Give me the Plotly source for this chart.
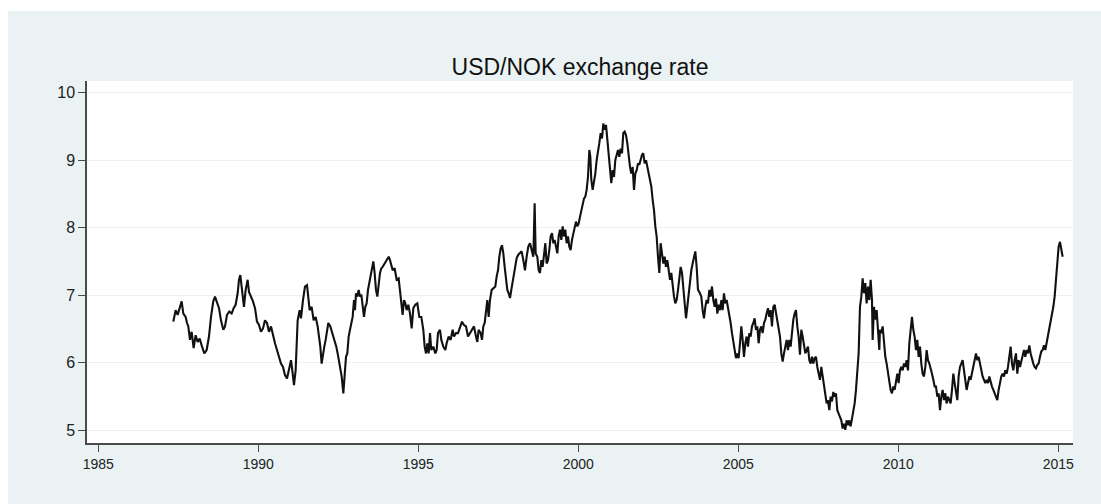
import plotly.graph_objects as go

# USD/NOK exchange rate, read as (decimal year, NOK per USD), split by period

years_87_92 = [1987.344, 1987.417, 1987.480, 1987.553, 1987.605, 1987.657, 1987.730, 1987.772,
               1987.813, 1987.865, 1987.917, 1987.980, 1988.042, 1988.105, 1988.167, 1988.230,
               1988.313, 1988.386, 1988.459, 1988.522, 1988.594, 1988.647, 1988.709, 1988.772,
               1988.834, 1988.907, 1988.959, 1989.022, 1989.094, 1989.167, 1989.230, 1989.292,
               1989.355, 1989.397, 1989.438, 1989.501, 1989.553, 1989.605, 1989.667, 1989.709,
               1989.772, 1989.834, 1989.897, 1989.959, 1990.022, 1990.084, 1990.147, 1990.209,
               1990.272, 1990.334, 1990.397, 1990.459, 1990.522, 1990.584, 1990.647, 1990.709,
               1990.772, 1990.834, 1990.897, 1990.959, 1991.022, 1991.063, 1991.115, 1991.167,
               1991.230, 1991.292, 1991.334, 1991.397, 1991.459, 1991.522, 1991.563, 1991.605,
               1991.667, 1991.730, 1991.792, 1991.855, 1991.897, 1991.938, 1991.980, 1992.022,
               1992.063, 1992.105, 1992.147, 1992.188, 1992.251, 1992.313, 1992.376, 1992.438,
               1992.480, 1992.542, 1992.605]
rates_87_92 = [6.61, 6.78, 6.71, 6.83, 6.91, 6.73, 6.68, 6.59,
               6.54, 6.34, 6.46, 6.22, 6.41, 6.31, 6.36, 6.26,
               6.14, 6.19, 6.39, 6.68, 6.91, 6.98, 6.91, 6.81,
               6.63, 6.49, 6.54, 6.71, 6.76, 6.73, 6.81, 6.86,
               7.03, 7.23, 7.30, 7.08, 6.83, 7.08, 7.23, 7.05,
               6.98, 6.91, 6.81, 6.61, 6.56, 6.46, 6.51, 6.63,
               6.59, 6.46, 6.54, 6.39, 6.29, 6.19, 6.09, 5.99,
               5.94, 5.82, 5.77, 5.89, 6.04, 5.89, 5.67, 5.89,
               6.63, 6.78, 6.66, 6.93, 7.13, 7.15, 6.98, 6.78,
               6.83, 6.63, 6.68, 6.54, 6.39, 6.24, 5.99, 6.14,
               6.24, 6.34, 6.49, 6.59, 6.54, 6.44, 6.36, 6.24,
               6.14, 5.99, 5.80]

years_92_98 = [1992.657, 1992.699, 1992.741, 1992.782, 1992.824, 1992.866, 1992.907, 1992.949,
               1992.991, 1993.022, 1993.053, 1993.095, 1993.136, 1993.178, 1993.220, 1993.261,
               1993.303, 1993.345, 1993.386, 1993.428, 1993.470, 1993.511, 1993.553, 1993.595,
               1993.636, 1993.678, 1993.720, 1993.761, 1993.803, 1993.845, 1993.886, 1993.949,
               1994.011, 1994.074, 1994.116, 1994.157, 1994.199, 1994.261, 1994.324, 1994.386,
               1994.428, 1994.470, 1994.511, 1994.553, 1994.595, 1994.636, 1994.688, 1994.741,
               1994.793, 1994.845, 1994.907, 1994.970, 1995.032, 1995.095, 1995.157, 1995.199,
               1995.241, 1995.282, 1995.324, 1995.366, 1995.407, 1995.470, 1995.532, 1995.574,
               1995.616, 1995.678, 1995.720, 1995.782, 1995.845, 1995.886, 1995.949, 1996.011,
               1996.074, 1996.116, 1996.178, 1996.241, 1996.303, 1996.366, 1996.428, 1996.491,
               1996.553, 1996.616, 1996.678, 1996.741, 1996.803, 1996.845, 1996.886, 1996.949,
               1996.991, 1997.032, 1997.074, 1997.116, 1997.157, 1997.199, 1997.241, 1997.293,
               1997.345, 1997.407, 1997.449, 1997.491, 1997.532, 1997.574, 1997.616, 1997.657,
               1997.699, 1997.741, 1997.782, 1997.824, 1997.866, 1997.907, 1997.949, 1997.991,
               1998.032, 1998.074, 1998.126]
rates_92_98 = [5.55, 5.80, 6.09, 6.14, 6.39, 6.49, 6.59, 6.68,
               6.93, 6.78, 7.03, 6.98, 7.08, 6.98, 7.01, 6.88,
               6.68, 6.83, 6.88, 7.08, 7.18, 7.33, 7.42, 7.50,
               7.33, 7.08, 6.98, 7.18, 7.33, 7.40, 7.42, 7.47,
               7.52, 7.57, 7.52, 7.42, 7.37, 7.40, 7.23, 7.25,
               7.08, 6.93, 6.71, 6.93, 6.88, 6.78, 6.86, 6.73,
               6.51, 6.81, 6.86, 6.88, 6.68, 6.68, 6.49, 6.24,
               6.14, 6.29, 6.14, 6.44, 6.19, 6.24, 6.14, 6.19,
               6.44, 6.49, 6.34, 6.24, 6.19, 6.29, 6.39, 6.34,
               6.49, 6.39, 6.44, 6.44, 6.54, 6.61, 6.56, 6.54,
               6.39, 6.44, 6.49, 6.54, 6.39, 6.31, 6.49, 6.44,
               6.34, 6.54, 6.59, 6.73, 6.93, 6.68, 6.93, 7.08,
               7.10, 7.13, 7.28, 7.37, 7.57, 7.69, 7.74, 7.62,
               7.42, 7.23, 7.08, 7.03, 6.96, 7.08, 7.20, 7.28,
               7.42, 7.55, 7.60]

years_98_03 = [1998.178, 1998.230, 1998.282, 1998.334, 1998.386, 1998.438, 1998.491, 1998.543,
               1998.595, 1998.636, 1998.668, 1998.720, 1998.761, 1998.803, 1998.845, 1998.886,
               1998.928, 1998.970, 1999.011, 1999.053, 1999.095, 1999.136, 1999.178, 1999.220,
               1999.261, 1999.303, 1999.345, 1999.386, 1999.428, 1999.470, 1999.511, 1999.553,
               1999.595, 1999.636, 1999.678, 1999.720, 1999.761, 1999.803, 1999.845, 1999.886,
               1999.928, 1999.970, 2000.011, 2000.053, 2000.095, 2000.136, 2000.178, 2000.220,
               2000.261, 2000.303, 2000.345, 2000.376, 2000.407, 2000.449, 2000.491, 2000.532,
               2000.574, 2000.616, 2000.657, 2000.699, 2000.741, 2000.782, 2000.824, 2000.866,
               2000.907, 2000.949, 2000.991, 2001.032, 2001.074, 2001.116, 2001.157, 2001.199,
               2001.241, 2001.282, 2001.324, 2001.366, 2001.407, 2001.449, 2001.491, 2001.532,
               2001.574, 2001.616, 2001.657, 2001.699, 2001.741, 2001.782, 2001.824, 2001.866,
               2001.907, 2001.949, 2001.991, 2002.032, 2002.074, 2002.116, 2002.157, 2002.199,
               2002.241, 2002.282, 2002.324, 2002.366, 2002.407, 2002.449, 2002.491, 2002.532,
               2002.574, 2002.616, 2002.657, 2002.699, 2002.741, 2002.782, 2002.824, 2002.866,
               2002.907, 2002.949, 2002.991, 2003.032, 2003.074, 2003.116, 2003.157, 2003.199,
               2003.241, 2003.282, 2003.324, 2003.366, 2003.407, 2003.449, 2003.491, 2003.532,
               2003.574, 2003.616, 2003.657, 2003.699, 2003.741, 2003.803]
rates_98_03 = [7.62, 7.65, 7.52, 7.37, 7.57, 7.72, 7.77, 7.67,
               7.57, 8.36, 7.62, 7.57, 7.37, 7.33, 7.52, 7.42,
               7.57, 7.77, 7.47, 7.52, 7.67, 7.87, 7.92, 7.77,
               7.82, 7.72, 7.62, 7.87, 7.97, 7.82, 8.02, 7.87,
               7.97, 7.77, 7.87, 7.72, 7.67, 7.82, 7.92, 8.02,
               8.09, 8.02, 8.06, 8.16, 8.26, 8.36, 8.43, 8.46,
               8.56, 8.75, 9.15, 9.05, 8.71, 8.56, 8.66, 8.80,
               9.00, 9.10, 9.25, 9.40, 9.32, 9.54, 9.45, 9.52,
               9.30, 9.05, 8.80, 8.66, 8.85, 8.75, 9.00, 9.10,
               9.15, 9.05, 9.17, 9.10, 9.40, 9.42, 9.37, 9.25,
               9.05, 8.90, 8.80, 8.90, 8.56, 8.80, 8.85, 8.95,
               8.93, 9.00, 9.08, 9.10, 8.95, 9.00, 8.90, 8.85,
               8.75, 8.61, 8.41, 8.26, 8.02, 7.87, 7.57, 7.33,
               7.77, 7.62, 7.47, 7.57, 7.42, 7.52, 7.37, 7.23,
               7.33, 7.13, 6.98, 6.88, 6.93, 7.08, 7.23, 7.42,
               7.33, 7.13, 6.93, 6.66, 6.83, 7.03, 7.28, 7.37,
               7.47, 7.57, 7.65, 7.42, 7.08, 7.03]

years_03_09 = [2003.845, 2003.886, 2003.928, 2003.970, 2004.011, 2004.053, 2004.095, 2004.136,
               2004.178, 2004.220, 2004.261, 2004.303, 2004.345, 2004.386, 2004.428, 2004.470,
               2004.511, 2004.553, 2004.595, 2004.636, 2004.678, 2004.720, 2004.761, 2004.803,
               2004.845, 2004.886, 2004.928, 2004.970, 2005.011, 2005.053, 2005.095, 2005.136,
               2005.178, 2005.220, 2005.261, 2005.303, 2005.345, 2005.386, 2005.428, 2005.470,
               2005.511, 2005.553, 2005.595, 2005.636, 2005.678, 2005.720, 2005.761, 2005.803,
               2005.845, 2005.886, 2005.928, 2005.970, 2006.011, 2006.053, 2006.095, 2006.136,
               2006.178, 2006.220, 2006.261, 2006.303, 2006.345, 2006.386, 2006.428, 2006.470,
               2006.511, 2006.553, 2006.595, 2006.636, 2006.678, 2006.720, 2006.761, 2006.803,
               2006.845, 2006.886, 2006.928, 2006.970, 2007.011, 2007.053, 2007.095, 2007.136,
               2007.178, 2007.220, 2007.261, 2007.303, 2007.345, 2007.386, 2007.428, 2007.470,
               2007.511, 2007.553, 2007.595, 2007.636, 2007.678, 2007.720, 2007.761, 2007.803,
               2007.845, 2007.886, 2007.928, 2007.970, 2008.011, 2008.053, 2008.095, 2008.136,
               2008.178, 2008.220, 2008.261, 2008.303, 2008.345, 2008.386, 2008.428, 2008.470,
               2008.511, 2008.553, 2008.595, 2008.636, 2008.678, 2008.720, 2008.761, 2008.782,
               2008.803, 2008.845, 2008.886, 2008.928, 2008.970, 2009.011, 2009.053, 2009.095,
               2009.136, 2009.178, 2009.199, 2009.241, 2009.282, 2009.324, 2009.366, 2009.407]
rates_03_09 = [6.98, 6.78, 6.66, 6.83, 6.93, 6.88, 7.08, 6.98,
               7.13, 6.93, 6.83, 6.95, 6.73, 6.86, 6.78, 6.93,
               6.78, 7.03, 6.88, 6.93, 6.83, 6.73, 6.59, 6.44,
               6.29, 6.14, 6.07, 6.14, 6.07, 6.29, 6.54, 6.34,
               6.09, 6.29, 6.39, 6.24, 6.44, 6.39, 6.54, 6.59,
               6.66, 6.49, 6.54, 6.29, 6.49, 6.54, 6.44, 6.59,
               6.64, 6.73, 6.81, 6.68, 6.78, 6.54, 6.83, 6.86,
               6.73, 6.64, 6.54, 6.39, 6.14, 6.02, 6.14, 6.26,
               6.34, 6.19, 6.34, 6.24, 6.49, 6.64, 6.73, 6.78,
               6.54, 6.39, 6.12, 6.49, 6.39, 6.29, 6.14, 6.19,
               6.24, 6.04, 5.99, 6.09, 5.99, 6.07, 6.09, 5.94,
               5.84, 5.75, 5.94, 5.80, 5.70, 5.55, 5.40, 5.45,
               5.30, 5.50, 5.43, 5.57, 5.50, 5.55, 5.30, 5.25,
               5.20, 5.15, 5.03, 5.10, 5.01, 5.15, 5.08, 5.15,
               5.06, 5.18, 5.25, 5.40, 5.60, 5.84, 6.14, 6.49,
               6.83, 6.98, 7.25, 7.03, 7.18, 6.88, 7.13, 6.93,
               7.23, 6.93, 6.34, 6.83, 6.64, 6.78, 6.49, 6.19]

years_09_15 = [2009.428, 2009.470, 2009.511, 2009.553, 2009.595, 2009.636, 2009.678, 2009.720,
               2009.761, 2009.803, 2009.845, 2009.886, 2009.928, 2009.970, 2010.011, 2010.053,
               2010.095, 2010.136, 2010.178, 2010.220, 2010.261, 2010.303, 2010.345, 2010.386,
               2010.428, 2010.470, 2010.511, 2010.553, 2010.595, 2010.636, 2010.678, 2010.720,
               2010.761, 2010.803, 2010.845, 2010.886, 2010.928, 2010.970, 2011.011, 2011.053,
               2011.095, 2011.136, 2011.178, 2011.220, 2011.261, 2011.303, 2011.345, 2011.386,
               2011.428, 2011.470, 2011.511, 2011.553, 2011.595, 2011.636, 2011.678, 2011.720,
               2011.761, 2011.803, 2011.845, 2011.886, 2011.928, 2011.970, 2012.011, 2012.053,
               2012.095, 2012.136, 2012.178, 2012.220, 2012.261, 2012.303, 2012.345, 2012.386,
               2012.428, 2012.470, 2012.511, 2012.553, 2012.595, 2012.636, 2012.678, 2012.720,
               2012.761, 2012.803, 2012.845, 2012.886, 2012.928, 2012.970, 2013.011, 2013.053,
               2013.095, 2013.136, 2013.178, 2013.220, 2013.261, 2013.303, 2013.345, 2013.386,
               2013.428, 2013.470, 2013.511, 2013.553, 2013.595, 2013.636, 2013.678, 2013.720,
               2013.761, 2013.803, 2013.845, 2013.886, 2013.928, 2013.970, 2014.011, 2014.053,
               2014.095, 2014.136, 2014.178, 2014.220, 2014.261, 2014.303, 2014.345, 2014.386,
               2014.428, 2014.470, 2014.511, 2014.553, 2014.595, 2014.636, 2014.678, 2014.720,
               2014.761, 2014.803, 2014.845, 2014.886, 2014.907, 2014.928, 2014.970, 2015.011,
               2015.053, 2015.095, 2015.136]
rates_09_15 = [6.49, 6.44, 6.54, 6.24, 6.09, 5.99, 5.84, 5.75,
               5.60, 5.55, 5.65, 5.60, 5.75, 5.84, 5.70, 5.89,
               5.94, 5.89, 5.99, 5.94, 6.04, 5.89, 6.29, 6.54,
               6.68, 6.49, 6.39, 6.19, 6.34, 6.09, 6.24, 5.99,
               5.84, 5.80, 5.94, 6.19, 6.04, 5.99, 5.89, 5.84,
               5.75, 5.65, 5.65, 5.50, 5.55, 5.30, 5.50, 5.60,
               5.45, 5.55, 5.40, 5.50, 5.45, 5.40, 5.60, 5.84,
               5.70, 5.60, 5.45, 5.80, 5.94, 5.99, 6.04, 5.89,
               5.75, 5.60, 5.70, 5.80, 5.75, 5.84, 5.94, 6.04,
               6.14, 6.04, 6.09, 5.99, 5.89, 5.80, 5.75, 5.70,
               5.75, 5.70, 5.80, 5.70, 5.65, 5.60, 5.55, 5.50,
               5.45, 5.60, 5.70, 5.80, 5.84, 5.80, 5.89, 5.84,
               5.94, 6.09, 6.24, 5.99, 5.89, 6.04, 6.14, 5.84,
               6.04, 5.94, 6.04, 6.14, 6.19, 6.09, 6.19, 6.14,
               6.26, 6.14, 6.04, 5.99, 5.94, 5.92, 5.97, 5.99,
               6.09, 6.17, 6.19, 6.26, 6.19, 6.29, 6.39, 6.49,
               6.59, 6.68, 6.83, 6.98, 7.13, 7.28, 7.47, 7.72,
               7.79, 7.67, 7.57]

years = years_87_92 + years_92_98 + years_98_03 + years_03_09 + years_09_15
rates = rates_87_92 + rates_92_98 + rates_98_03 + rates_03_09 + rates_09_15

x_ticks = [1985, 1990, 1995, 2000, 2005, 2010, 2015]
y_ticks = [5, 6, 7, 8, 9, 10]

BG = "#eaf2f3"
AXIS = "#4a4a4a"
FONT = "Liberation Sans, Arial, Helvetica, sans-serif"

fig = go.Figure()
fig.add_trace(go.Scatter(
    x=years, y=rates, mode="lines",
    line=dict(color="#111111", width=2.1),
    hoverinfo="x+y", showlegend=False,
))

fig.update_layout(
    width=1101, height=504,
    margin=dict(l=87, r=28, t=81, b=61),
    paper_bgcolor=BG,
    plot_bgcolor="white",
    font=dict(family=FONT, color="#222222"),
    title=dict(
        text="USD/NOK exchange rate",
        x=0.5, xref="paper", xanchor="center",
        y=1 - 67 / 504, yref="container", yanchor="middle",
        font=dict(size=23, family=FONT, color="#111111"),
    ),
    xaxis=dict(
        range=[1984.647, 2015.46],
        tickmode="array", tickvals=x_ticks,
        ticks="outside", ticklen=7, tickwidth=1.3, tickcolor=AXIS,
        showline=True, linecolor=AXIS, linewidth=1.5,
        showgrid=False, zeroline=False,
        tickfont=dict(size=14, family=FONT, color="#222222"),
    ),
    yaxis=dict(
        range=[4.815, 10.17],
        tickmode="array", tickvals=y_ticks,
        ticks="outside", ticklen=7, tickwidth=1.3, tickcolor=AXIS,
        showline=True, linecolor=AXIS, linewidth=1.5,
        showgrid=True, gridcolor=BG, gridwidth=1.2,
        zeroline=False,
        tickfont=dict(size=16, family=FONT, color="#222222"),
    ),
    # thin white frame along the top and left edges of the page
    shapes=[
        dict(type="rect", xref="paper", yref="paper",
             x0=-0.0883, x1=1.03, y0=1.1934, y1=1.23,
             fillcolor="white", line=dict(width=0), layer="above"),
        dict(type="rect", xref="paper", yref="paper",
             x0=-0.0883, x1=-0.0801, y0=-0.2, y1=1.23,
             fillcolor="white", line=dict(width=0), layer="above"),
    ],
)

fig.write_html("out.html")
